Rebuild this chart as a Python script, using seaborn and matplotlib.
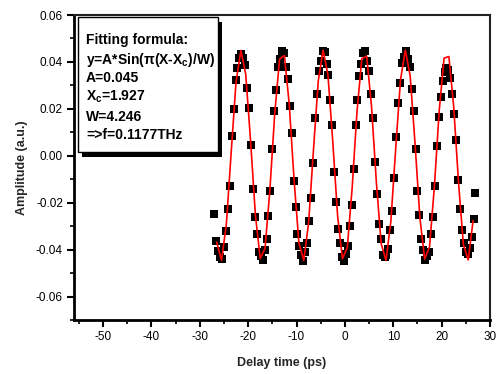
import numpy as np
import pandas as pd
import matplotlib
matplotlib.use("Agg")
import matplotlib.pyplot as plt
from matplotlib.patches import Rectangle
from matplotlib.ticker import MultipleLocator, FormatStrFormatter
import seaborn as sns

# ---- measured data (black squares) ----
delay_ps = [-27.0, -26.6, -26.2, -25.8, -25.4, -25.0, -24.6, -24.2, -23.8, -23.4,
            -23.0, -22.6, -22.2, -21.8, -21.4, -21.0, -20.6, -20.2, -19.8, -19.4,
            -19.0, -18.6, -18.2, -17.8, -17.4, -17.0, -16.6, -16.2, -15.8, -15.4,
            -15.0, -14.6, -14.2, -13.8, -13.4, -13.0, -12.6, -12.2, -11.8, -11.4,
            -11.0, -10.6, -10.2, -9.8, -9.4, -9.0, -8.6, -8.2, -7.8, -7.4,
            -7.0, -6.6, -6.2, -5.8, -5.4, -5.0, -4.6, -4.2, -3.8, -3.4,
            -3.0, -2.6, -2.2, -1.8, -1.4, -1.0, -0.6, -0.2, 0.2, 0.6,
            1.0, 1.4, 1.8, 2.2, 2.6, 3.0, 3.4, 3.8, 4.2, 4.6,
            5.0, 5.4, 5.8, 6.2, 6.6, 7.0, 7.4, 7.8, 8.2, 8.6,
            9.0, 9.4, 9.8, 10.2, 10.6, 11.0, 11.4, 11.8, 12.2, 12.6,
            13.0, 13.4, 13.8, 14.2, 14.6, 15.0, 15.4, 15.8, 16.2, 16.6,
            17.0, 17.4, 17.8, 18.2, 18.6, 19.0, 19.4, 19.8, 20.2, 20.6,
            21.0, 21.4, 21.8, 22.2, 22.6, 23.0, 23.4, 23.8, 24.2, 24.6,
            25.0, 25.4, 25.8, 26.2, 26.6, 27.0]
amplitude = [-0.0250, -0.0365, -0.0405, -0.0430, -0.0441, -0.0390, -0.0320, -0.0225, -0.0128, 0.0085,
             0.0198, 0.0322, 0.0376, 0.0418, 0.0432, 0.0415, 0.0385, 0.0290, 0.0205, 0.0045,
             -0.0140, -0.0262, -0.0335, -0.0410, -0.0428, -0.0445, -0.0400, -0.0356, -0.0255, -0.0152,
             0.0028, 0.0192, 0.0281, 0.0378, 0.0412, 0.0448, 0.0436, 0.0380, 0.0326, 0.0212,
             0.0098, -0.0108, -0.0220, -0.0332, -0.0385, -0.0422, -0.0447, -0.0410, -0.0372, -0.0276,
             -0.0182, -0.0030, 0.0160, 0.0262, 0.0362, 0.0402, 0.0446, 0.0441, 0.0392, 0.0344,
             0.0238, 0.0130, -0.0070, -0.0195, -0.0312, -0.0370, -0.0431, -0.0448, -0.0418, -0.0386,
             -0.0298, -0.0210, -0.0058, 0.0130, 0.0236, 0.0342, 0.0393, 0.0440, 0.0446, 0.0404,
             0.0360, 0.0262, 0.0162, -0.0028, -0.0165, -0.0290, -0.0356, -0.0424, -0.0432, -0.0424,
             -0.0398, -0.0318, -0.0236, -0.0095, 0.0080, 0.0226, 0.0310, 0.0395, 0.0422, 0.0447,
             0.0414, 0.0377, 0.0284, 0.0191, 0.0030, -0.0151, -0.0253, -0.0355, -0.0400, -0.0443,
             -0.0428, -0.0411, -0.0335, -0.0260, -0.0128, 0.0040, 0.0165, 0.0250, 0.0318, 0.0355,
             0.0372, 0.0365, 0.0330, 0.0262, 0.0180, 0.0066, -0.0105, -0.0228, -0.0318, -0.0372,
             -0.0410, -0.0420, -0.0395, -0.0348, -0.0270, -0.0160]

# ---- fitted curve (red line), vertices ----
fit_x = [-26.5, -25.5, -24.5, -23.5, -22.5, -21.5, -20.5, -19.5, -18.5, -17.5,
         -16.5, -15.5, -14.5, -13.5, -12.5, -11.5, -10.5, -9.5, -8.5, -7.5,
         -6.5, -5.5, -4.5, -3.5, -2.5, -1.5, -0.5, 0.5, 1.5, 2.5,
         3.5, 4.5, 5.5, 6.5, 7.5, 8.5, 9.5, 10.5, 11.5, 12.5,
         13.5, 14.5, 15.5, 16.5, 17.5, 18.5, 19.5, 20.5, 21.5, 22.5,
         23.5, 24.5, 25.5, 26.5]
fit_y = [-0.0368, -0.0446, -0.0291, 0.0016, 0.0315, 0.0449, 0.0348, 0.0065, -0.0252, -0.0438,
         -0.0394, -0.0144, 0.0181, 0.0412, 0.0427, 0.0219, -0.0104, -0.0372, -0.0446, -0.0286,
         0.0023, 0.0320, 0.0450, 0.0344, 0.0059, -0.0257, -0.0439, -0.0391, -0.0138, 0.0187,
         0.0414, 0.0425, 0.0213, -0.0110, -0.0375, -0.0445, -0.0281, 0.0029, 0.0324, 0.0450,
         0.0340, 0.0053, -0.0263, -0.0440, -0.0388, -0.0132, 0.0192, 0.0416, 0.0423, 0.0208,
         -0.0116, -0.0379, -0.0444, -0.0277]

x_ticks = [-50, -40, -30, -20, -10, 0, 10, 20, 30]
y_ticks = [-0.06, -0.04, -0.02, 0.00, 0.02, 0.04, 0.06]

box_lines = ["Fitting formula:",
             r"y=A*Sin(π(X-X$_c$)/W)",
             "A=0.045",
             r"X$_c$=1.927",
             "W=4.246",
             "=>f=0.1177THz"]

sns.set_theme(style="ticks")
plt.rcParams["font.family"] = ["Liberation Sans", "DejaVu Sans"]
plt.rcParams["axes.unicode_minus"] = False
plt.rcParams["mathtext.fontset"] = "custom"
plt.rcParams["mathtext.it"] = "Liberation Sans:bold"
plt.rcParams["mathtext.rm"] = "Liberation Sans:bold"
plt.rcParams["mathtext.bf"] = "Liberation Sans:bold"
plt.rcParams["mathtext.default"] = "it"

fig = plt.figure(figsize=(4.97, 3.74), dpi=100)
ax = fig.add_axes([74 / 497, 1 - 320 / 374, 416 / 497, 305 / 374])

df = pd.DataFrame({"Delay": delay_ps, "Amp": amplitude})
dfit = pd.DataFrame({"Delay": fit_x, "Amp": fit_y})

sns.scatterplot(data=df, x="Delay", y="Amp", marker="s", s=27, color="black",
                linewidth=0, ax=ax, zorder=2)
sns.lineplot(data=dfit, x="Delay", y="Amp", color="red", lw=1.2, sort=False,
             estimator=None, ax=ax, zorder=3)

ax.set_xlim(-56, 30)
ax.set_ylim(-0.07, 0.06)
ax.set_xticks(x_ticks)
ax.set_yticks(y_ticks)
ax.xaxis.set_minor_locator(MultipleLocator(5))
ax.yaxis.set_minor_locator(MultipleLocator(0.01))
ax.yaxis.set_major_formatter(FormatStrFormatter("%.2f"))
ax.tick_params(axis="both", which="major", direction="out", length=5, width=1.5,
               labelsize=8.5, color="black", labelcolor="black", pad=3)
ax.tick_params(axis="both", which="minor", direction="out", length=3, width=1.2,
               color="black")
for side in ["left", "bottom"]:
    ax.spines[side].set_linewidth(2.0)
    ax.spines[side].set_color("black")
for side in ["top", "right"]:
    ax.spines[side].set_visible(True)
    ax.spines[side].set_linewidth(1.5)
    ax.spines[side].set_color("#222222")

ax.set_xlabel("Delay time (ps)", fontsize=9, fontweight="bold", labelpad=10)
ax.set_ylabel("Amplitude (a.u.)", fontsize=9, fontweight="bold", labelpad=6)

# text box with drop shadow
ax.add_patch(Rectangle((0.0192, 0.5330), 0.3375, 0.4426, transform=ax.transAxes,
                       facecolor="black", edgecolor="none", zorder=5, clip_on=False))
ax.add_patch(Rectangle((0.0096, 0.551), 0.3365, 0.4424, transform=ax.transAxes,
                       facecolor="white", edgecolor="black", lw=1.0, zorder=6, clip_on=False))
line_y = [0.905, 0.839, 0.780, 0.718, 0.652, 0.592]
for txt, yy in zip(box_lines, line_y):
    ax.text(0.0288, yy, txt, transform=ax.transAxes, fontsize=10, fontweight="bold",
            ha="left", va="baseline", zorder=7, color="black")

fig.savefig("out.png", dpi=100)
